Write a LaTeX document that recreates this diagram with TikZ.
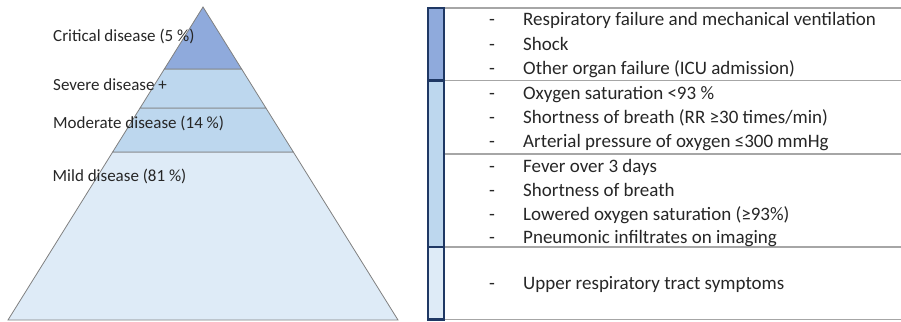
\documentclass[tikz,border=0pt]{standalone}
\usepackage{fontspec}
\setmainfont{Carlito}
\usetikzlibrary{calc}

\definecolor{critblue}{HTML}{8FAADC}
\definecolor{sevblue}{HTML}{BDD7EE}
\definecolor{mildblue}{HTML}{DEEBF7}
\definecolor{barnavy}{HTML}{1F3864}
\definecolor{rulegray}{HTML}{A6A6A6}
\definecolor{txtgray}{HTML}{262626}

\tikzset{
  band/.style={draw=gray, line width=0.8pt},
  lbl/.style={anchor=base west, inner sep=0pt, font=\fontsize{17}{20}\selectfont, text=txtgray},
  item/.style={anchor=base west, inner sep=0pt, font=\fontsize{19}{22}\selectfont, text=txtgray},
  dashmark/.style={anchor=base, inner sep=0pt, font=\fontsize{19}{22}\selectfont, text=txtgray},
  barcell/.style={draw=barnavy, line width=2.5pt},
  rowrule/.style={draw=rulegray, line width=1.5pt}
}

\begin{document}
\begin{tikzpicture}[x=1pt,y=-1pt]
        \useasboundingbox (0,0) rectangle (901,321);

        % pyramid
        \coordinate (apex) at (203,7);
        \coordinate (bl) at (8,320);
        \coordinate (br) at (398,320);
        \coordinate (l1) at ($(apex)!0.198!(bl)$);
        \coordinate (r1) at ($(apex)!0.198!(br)$);
        \coordinate (l2) at ($(apex)!0.3227!(bl)$);
        \coordinate (r2) at ($(apex)!0.3227!(br)$);
        \coordinate (l3) at ($(apex)!0.4633!(bl)$);
        \coordinate (r3) at ($(apex)!0.4633!(br)$);

        \filldraw[band, fill=mildblue] (l3) -- (r3) -- (br) -- (bl) -- cycle;
        \filldraw[band, fill=sevblue] (l2) -- (r2) -- (r3) -- (l3) -- cycle;
        \filldraw[band, fill=sevblue] (l1) -- (r1) -- (r2) -- (l2) -- cycle;
        \filldraw[band, fill=critblue] (apex) -- (r1) -- (l1) -- cycle;

        \node[lbl] (critical) at (53,41.7) {Critical disease (5 \%)};
        \node[lbl] (severe) at (53,90.7) {Severe disease +};
        \node[lbl] (moderate) at (53,128.3) {Moderate disease (14 \%)};
        \node[lbl] (mild) at (52.5,181.7) {Mild disease (81 \%)};

        % table
        \foreach \y in {8,80.5,154,247,319.5}
            \draw[rowrule] (445,\y) -- (901,\y);
        \filldraw[barcell, fill=critblue] (428,8) rectangle (444,80.5);
        \filldraw[barcell, fill=sevblue] (428,80.5) rectangle (444,247);
        \filldraw[barcell, fill=mildblue] (428,247) rectangle (444,319.5);

        \foreach \y/\t [count=\i] in {
            26/{Respiratory failure and mechanical ventilation},
            50.5/{Shock},
            74.5/{Other organ failure (ICU admission)},
            99/{Oxygen saturation <93 \%},
            123/{Shortness of breath (RR ≥30 times/min)},
            147/{Arterial pressure of oxygen ≤300 mmHg},
            172.7/{Fever over 3 days},
            196.7/{Shortness of breath},
            220.7/{Lowered oxygen saturation (≥93\%)},
            243.5/{Pneumonic infiltrates on imaging},
            289.3/{Upper respiratory tract symptoms}}
        {
            \node[dashmark] (d\i) at (492,\y) {-};
            \node[item] (t\i) at (523,\y) {\t};
        }
\end{tikzpicture}
\end{document}
